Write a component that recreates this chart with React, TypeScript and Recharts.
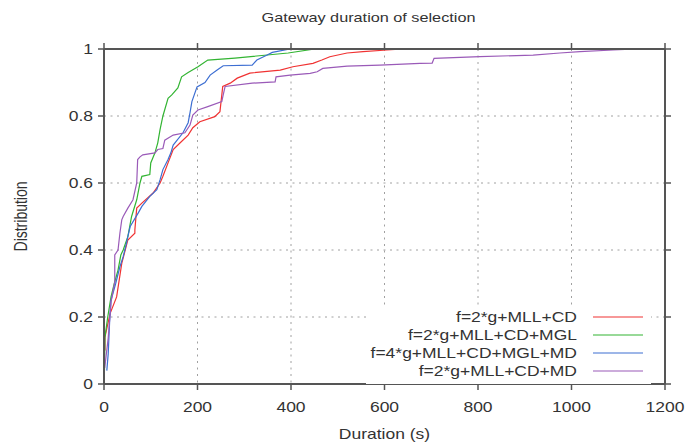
import React from 'react';
import { LineChart, Line, XAxis, YAxis, CartesianGrid, Legend, Label } from 'recharts';

const FONT = '"Liberation Sans", Arial, Helvetica, sans-serif';
const SX = 1.25;
const TXT = '#333333';
const AXIS = '#555555';

const chartTitle = 'Gateway duration of selection';
const xTitle = 'Duration (s)';
const yTitle = 'Distribution';

const xTicks = [0, 200, 400, 600, 800, 1000, 1200];
const yTicks = [0, 0.2, 0.4, 0.6, 0.8, 1];

const seriesNames = [
  'f=2*g+MLL+CD',
  'f=2*g+MLL+CD+MGL',
  'f=4*g+MLL+CD+MGL+MD',
  'f=2*g+MLL+CD+MD',
];
const seriesColors = ['#f03232', '#32b432', '#3c6ed2', '#9a5ab8'];

// [duration (s), cumulative distribution]
const redPts: [number, number][] = [
  [2, 0.1], [2, 0.14], [13, 0.21], [27, 0.26], [38, 0.36], [51, 0.43], [66, 0.45], [66, 0.46],
  [70, 0.525], [81, 0.54], [105, 0.57], [120, 0.6], [126, 0.62], [137, 0.66], [148, 0.7],
  [163, 0.72], [180, 0.743], [190, 0.765], [205, 0.783], [237, 0.798], [248, 0.813],
  [254, 0.888], [270, 0.898], [285, 0.913], [312, 0.928], [377, 0.937], [404, 0.947],
  [447, 0.957], [466, 0.967], [483, 0.977], [520, 0.988], [554, 0.992], [605, 0.997], [640, 1],
];
const greenPts: [number, number][] = [
  [1, 0.04], [2, 0.14], [8, 0.2], [15, 0.26], [22, 0.3], [30, 0.34], [36, 0.385], [41, 0.4],
  [51, 0.44], [59, 0.5], [70, 0.55], [77, 0.6], [81, 0.62], [98, 0.625], [100, 0.66],
  [109, 0.69], [115, 0.72], [120, 0.76], [126, 0.8], [137, 0.853], [145, 0.863], [158, 0.884],
  [166, 0.917], [180, 0.93], [201, 0.947], [222, 0.967], [280, 0.973], [394, 0.988], [451, 1],
];
const bluePts: [number, number][] = [
  [6, 0.04], [9, 0.09], [12, 0.185], [15, 0.25], [25, 0.3], [34, 0.35], [41, 0.38], [48, 0.42],
  [51, 0.44], [56, 0.47], [73, 0.51], [81, 0.53], [98, 0.56], [113, 0.58], [120, 0.61],
  [126, 0.64], [137, 0.67], [143, 0.69], [148, 0.713], [169, 0.75], [180, 0.78], [184, 0.81],
  [188, 0.843], [199, 0.887], [216, 0.9], [227, 0.922], [242, 0.937], [255, 0.95], [317, 0.952],
  [327, 0.967], [349, 0.982], [360, 0.99], [398, 1],
];
const purplePts: [number, number][] = [
  [1.5, 0.048], [9, 0.137], [15, 0.245], [23, 0.305], [23, 0.385], [30, 0.4], [34, 0.45],
  [38, 0.49], [41, 0.5], [51, 0.525], [62, 0.55], [70, 0.6], [72, 0.67], [77, 0.678],
  [83, 0.684], [109, 0.69], [115, 0.7], [126, 0.703], [130, 0.728], [148, 0.743], [173, 0.75],
  [184, 0.773], [190, 0.803], [201, 0.818], [222, 0.828], [252, 0.843], [255, 0.863],
  [259, 0.888], [317, 0.898], [366, 0.902], [368, 0.917], [398, 0.922], [441, 0.927],
  [456, 0.932], [468, 0.942], [520, 0.949], [590, 0.952], [676, 0.957], [702, 0.958],
  [706, 0.972], [804, 0.977], [918, 0.982], [975, 0.988], [1018, 0.992], [1089, 0.997], [1140, 1],
];

const seriesPts = [redPts, greenPts, bluePts, purplePts];
const toRows = (pts: [number, number][]) => pts.map(([d, p]) => ({ d, p }));

const EmptyTick = () => <g />;

const XTick = (props: any) => {
  const { x, y, payload } = props;
  return (
    <g transform={`translate(${x},${y + 22})`}>
      <text transform={`scale(${SX},1)`} textAnchor="middle" fontFamily={FONT} fontSize={14} fill={TXT}>
        {payload.value}
      </text>
    </g>
  );
};

const YTick = (props: any) => {
  const { x, y, payload } = props;
  return (
    <g transform={`translate(${x},${y + 5})`}>
      <text transform={`scale(${SX},1)`} textAnchor="end" fontFamily={FONT} fontSize={14} fill={TXT}>
        {payload.value}
      </text>
    </g>
  );
};

const XTitle = (props: any) => {
  const vb = props.viewBox;
  return (
    <g transform={`translate(${vb.x + vb.width / 2},${vb.y + 55})`}>
      <text transform={`scale(${SX},1)`} textAnchor="middle" fontFamily={FONT} fontSize={14} fill={TXT}>
        {xTitle}
      </text>
    </g>
  );
};

const YTitle = (props: any) => {
  const vb = props.viewBox;
  return (
    <g transform={`translate(${vb.x + 27},${vb.y + vb.height / 2}) scale(${SX},1) rotate(-90)`}>
      <text textAnchor="middle" fontFamily={FONT} fontSize={14} fill={TXT}>
        {yTitle}
      </text>
    </g>
  );
};

const ChartTitle = (props: any) => {
  const vb = props.viewBox;
  return (
    <g transform={`translate(${vb.x + vb.width / 2 - 16},${vb.y + vb.height - 27})`}>
      <text transform={`scale(${SX},1)`} textAnchor="middle" fontFamily={FONT} fontSize={13} fill={TXT}>
        {chartTitle}
      </text>
    </g>
  );
};

const KeyBox = () => (
  <svg width={285} height={78} style={{ display: 'block' }}>
    <rect x={0} y={0} width={285} height={78} fill="#ffffff" />
    {seriesNames.map((name, i) => {
      const cy = 11 + i * 18;
      return (
        <g key={name}>
          <g transform={`translate(211,${cy + 5})`}>
            <text transform={`scale(${SX},1)`} textAnchor="end" fontFamily={FONT} fontSize={14} fill={TXT}>
              {name}
            </text>
          </g>
          <line x1={227} x2={277} y1={cy} y2={cy} stroke={seriesColors[i]} strokeWidth={1.2} />
        </g>
      );
    })}
  </svg>
);

export default function App() {
  return (
    <div style={{ position: 'absolute', left: 0, top: 0, background: '#fff' }}>
      <LineChart width={685} height={446} margin={{ top: 48, right: 19, bottom: 0, left: 0 }}>
        <CartesianGrid stroke="#a0a0a0" strokeDasharray="2 4.5" />
        <XAxis
          xAxisId={0}
          dataKey="d"
          type="number"
          domain={[0, 1200]}
          ticks={xTicks}
          allowDataOverflow
          height={62}
          tickSize={6}
          tickMargin={0}
          tick={<XTick />}
          axisLine={{ stroke: AXIS, strokeWidth: 2 }}
          tickLine={{ stroke: AXIS, strokeWidth: 1.5 }}
        >
          <Label content={<XTitle />} />
        </XAxis>
        <XAxis
          xAxisId="top"
          orientation="top"
          dataKey="d"
          type="number"
          domain={[0, 1200]}
          ticks={xTicks}
          allowDataOverflow
          height={1}
          tickSize={6}
          tick={<EmptyTick />}
          axisLine={{ stroke: AXIS, strokeWidth: 2 }}
          tickLine={{ stroke: AXIS, strokeWidth: 1.5 }}
        >
          <Label content={<ChartTitle />} />
        </XAxis>
        <YAxis
          yAxisId={0}
          type="number"
          domain={[0, 1]}
          ticks={yTicks}
          allowDataOverflow
          width={104}
          tickSize={6}
          tickMargin={5}
          tick={<YTick />}
          axisLine={{ stroke: AXIS, strokeWidth: 2 }}
          tickLine={{ stroke: AXIS, strokeWidth: 1.5 }}
        >
          <Label content={<YTitle />} />
        </YAxis>
        <YAxis
          yAxisId="right"
          orientation="right"
          type="number"
          domain={[0, 1]}
          ticks={yTicks}
          allowDataOverflow
          width={1}
          tickSize={6}
          tick={<EmptyTick />}
          axisLine={{ stroke: AXIS, strokeWidth: 2 }}
          tickLine={{ stroke: AXIS, strokeWidth: 1.5 }}
        />
        <Legend
          layout="vertical"
          align="center"
          verticalAlign="middle"
          wrapperStyle={{ left: 366, top: 306, width: 285, height: 78 }}
          content={<KeyBox />}
        />
        {seriesPts.map((pts, i) => (
          <Line
            key={seriesNames[i]}
            xAxisId={0}
            yAxisId={0}
            data={toRows(pts)}
            dataKey="p"
            name={seriesNames[i]}
            type="linear"
            stroke={seriesColors[i]}
            strokeWidth={1.2}
            dot={false}
            activeDot={false}
            isAnimationActive={false}
          />
        ))}
      </LineChart>
    </div>
  );
}
